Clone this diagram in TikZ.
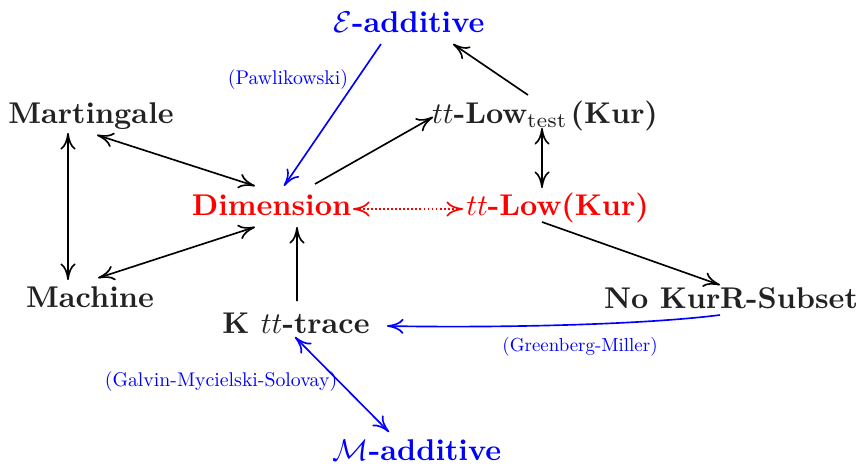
\documentclass[tikz,border=0pt]{standalone}
\usepackage{graphicx}
\usetikzlibrary{arrows.meta,calc}
\definecolor{ink}{RGB}{34,34,34}
\begin{document}
\begin{tikzpicture}[x=0.33333pt,y=-0.33333pt,
  lbl/.style={anchor=base,inner sep=0pt,font=\bfseries,text=ink},
  note/.style={anchor=center,inner sep=0pt,text=blue},
  edge/.style={line width=0.55pt,black},
  bedge/.style={line width=0.55pt,blue},
  >={Computer Modern Rightarrow[length=5.5pt,width=5pt]}]
\useasboundingbox (0,0) rectangle (860,465);

% nodes (placed at baselines)
\node[lbl] (eadd) at (409,32) {\textcolor{blue}{$\mathcal{E}$-additive}};
\node[lbl] (mart) at (91,123) {Martingale};
\node[lbl] (lowt) at (545,123) {$tt$-Low$_{\mathrm{test}}$\kern1pt(Kur)};
\node[lbl,text=red] (dim) at (271.5,215) {Dimension};
\node[lbl,text=red] (low) at (557.5,215) {$tt$-Low(Kur)};
\node[lbl] (mach) at (90,307) {Machine};
\node[lbl] (nokur) at (731,308) {No KurR-Subset};
\node[lbl] (ktt) at (296,333) {K $tt$-trace};
\node[lbl] (madd) at (417,460) {\textcolor{blue}{$\mathcal{M}$-additive}};

% notes
\node[note] (npaw) at (288,80) {\scalebox{0.66}{(Pawlikowski)}};
\node[note] (ngre) at (580,347) {\scalebox{0.63}{(Greenberg-Miller)}};
\node[note] (ngal) at (221,382) {\scalebox{0.66}{(Galvin-Mycielski-Solovay)}};

% black connectors
\draw[edge,->] ($(lowt.base)+(-17,-28)$) -- ($(eadd.base)+(44,12)$);
\draw[edge,<->] ($(mart.base)+(6,12)$) -- ($(dim.base)+(-16.5,-29)$);
\draw[edge,<->] ($(mart.base)+(-23,10)$) -- ($(mach.base)+(-22,-27)$);
\draw[edge,<->] ($(mach.base)+(8,-29)$) -- ($(dim.base)+(-16.5,12)$);
\draw[edge,->] ($(dim.base)+(43.5,-31)$) -- ($(lowt.base)+(-112,-6)$);
\draw[edge,<->] ($(lowt.base)+(-3,5)$) -- ($(low.base)+(-15.5,-27)$);
\draw[edge,->] ($(low.base)+(-15.5,7)$) -- ($(nokur.base)+(-11,-23)$);
\draw[edge,->] ($(ktt.base)+(1,-32)$) -- ($(dim.base)+(25.5,12)$);

% red dotted
\draw[line width=0.55pt,red,dash pattern=on 0.6pt off 0.75pt,<->] ($(dim.base)+(81.5,-6)$) -- ($(low.base)+(-94.5,-6)$);

% blue connectors
\draw[bedge,->] ($(eadd.base)+(-28,12)$) -- ($(dim.base)+(12.5,-29)$);
\draw[bedge,->] ($(nokur.base)+(-11,7)$) .. controls ($(nokur.base)+(-90,17)$) and ($(ktt.base)+(200,-5)$) .. ($(ktt.base)+(91,-7)$);
\draw[bedge,<->] ($(ktt.base)+(-1,4)$) -- ($(madd.base)+(-28,-28)$);
\end{tikzpicture}
\end{document}
